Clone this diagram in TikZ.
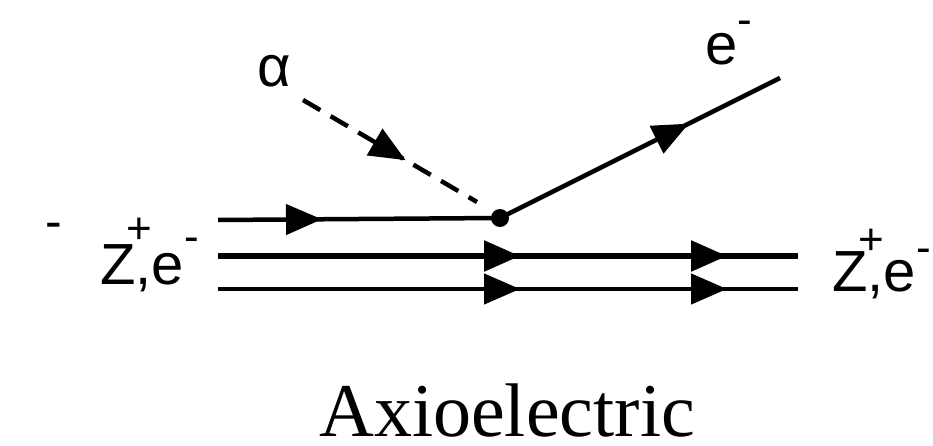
\documentclass[tikz,border=0pt]{standalone}
\usepackage{fontspec}
\setmainfont{Liberation Serif}
\newfontfamily\labelfont{Liberation Sans}
\usetikzlibrary{arrows.meta,decorations.markings}

\newcommand{\supchg}[2]{\raisebox{#1}{\fontsize{44}{44}\selectfont #2}}

\tikzset{
  prop/.style={line width=4.5pt},
  boson/.style={line width=4.5pt, dash pattern=on 20pt off 12pt},
  tri/.style={postaction={decorate, decoration={markings,
      mark=at position #1 with {\arrow{Triangle[length=36pt,width=30pt]}}}}},
  lbl/.style={font=\labelfont\fontsize{58}{58}\selectfont, inner sep=0pt, anchor=base west},
}

\begin{document}
\begin{tikzpicture}[x=1pt, y=-1pt]
  \useasboundingbox (0,0) rectangle (933,446);

  % end points
  \coordinate (inT) at (218,220);
  \coordinate (inM) at (218,256);
  \coordinate (inB) at (218,289);
  \coordinate (vtx) at (500,218);
  \coordinate (outM) at (798,256);
  \coordinate (outB) at (798,289);
  \coordinate (axIn) at (303,100);
  \coordinate (axEnd) at (477,202);
  \coordinate (eOut) at (780,78);

  % atom lines
  \draw[prop, tri=104pt] (inT) -- (vtx);
  \draw[prop, line width=5.5pt, tri=302pt, tri=509pt] (inM) -- (outM);
  \draw[prop, tri=302pt, tri=509pt] (inB) -- (outB);

  % axion and photo-electron
  \draw[boson, tri=119pt] (axIn) -- (axEnd);
  \draw[prop, tri=211pt] (vtx) -- (eOut);
  \fill (vtx) circle (9pt);

  % labels
  \node[lbl] (alpha) at (257,87) {α};
  \node[lbl] (eLbl) at (705,65) {e\supchg{30pt}{-}};
  \node[lbl] (zIn) at (100,284) {Z\rlap{\kern-9pt\supchg{41pt}{+}},e\supchg{33pt}{-}};
  \node[lbl] (zOut) at (832,291) {Z\rlap{\kern-9pt\supchg{37pt}{+}},e\supchg{29pt}{-}};
  \node[font=\labelfont\fontsize{50}{50}\selectfont, inner sep=0pt] (stray) at (54,231) {-};
  \node[font=\fontsize{76}{76}\selectfont, inner sep=0pt, anchor=base] (title) at (507,436) {Axioelectric};
\end{tikzpicture}
\end{document}
